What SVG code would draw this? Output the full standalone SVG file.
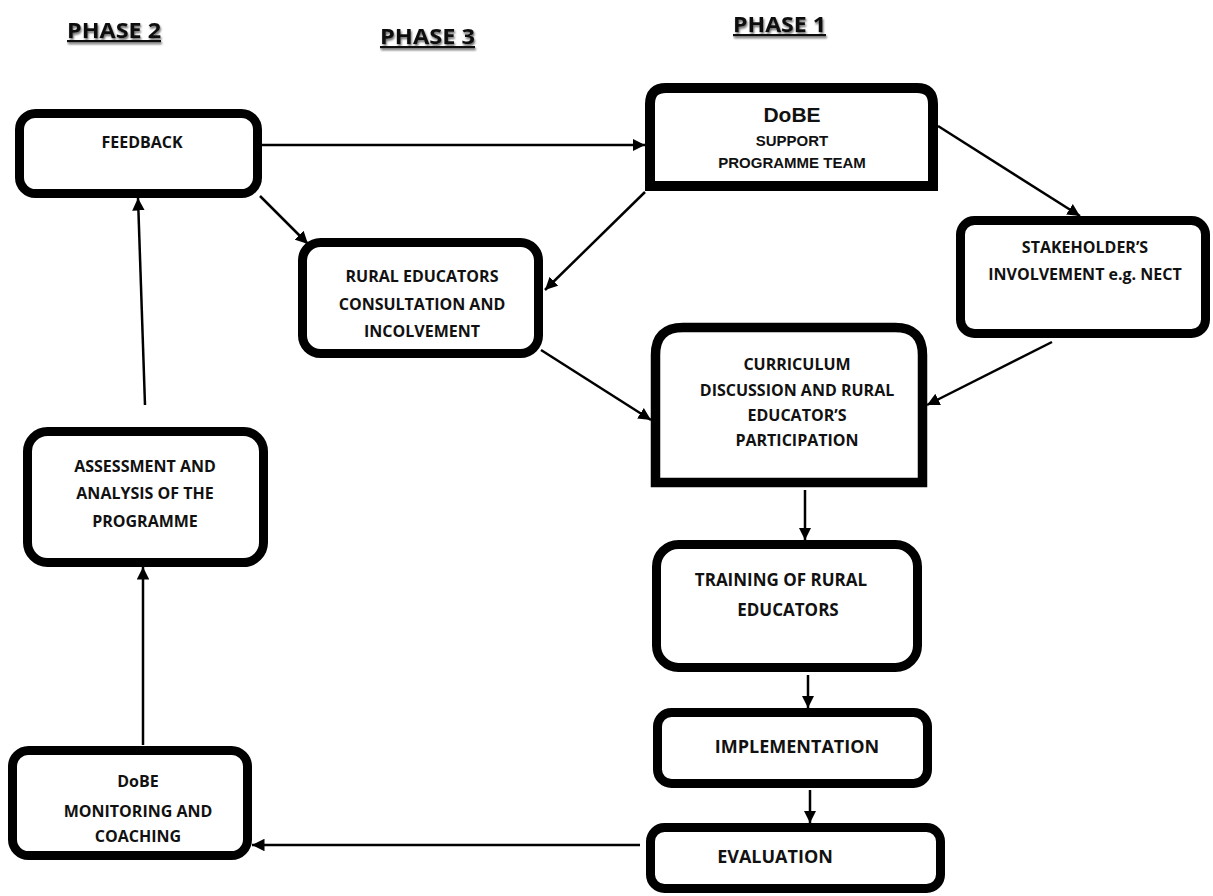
<svg xmlns="http://www.w3.org/2000/svg" width="1213" height="896" viewBox="0 0 1213 896">
<defs>
<marker id="ah" viewBox="0 0 10 10" refX="10" refY="5" markerWidth="5" markerHeight="5" markerUnits="strokeWidth" orient="auto">
<path d="M0,0 L10,5 L0,10 z" fill="#000"/>
</marker>
<filter id="sh" x="-10%" y="-30%" width="130%" height="160%">
<feGaussianBlur in="SourceAlpha" stdDeviation="1.2"/>
<feOffset dx="1" dy="1.5" result="b"/>
<feComponentTransfer><feFuncA type="linear" slope="0.6"/></feComponentTransfer>
<feMerge><feMergeNode/><feMergeNode in="SourceGraphic"/></feMerge>
</filter>
</defs>
<style>
.box{fill:#fff;stroke:#000;stroke-width:9}
.t{font-family:"Open Sans","Liberation Sans",sans-serif;font-weight:bold;font-size:16px;fill:#111;text-anchor:middle}
.a{font-family:"Liberation Sans",Arial,sans-serif;font-weight:bold;fill:#111;text-anchor:middle}
.h{font-family:"Open Sans","Liberation Sans",sans-serif;font-weight:bold;font-size:22px;fill:#111;text-decoration:underline}
.c{stroke:#000;stroke-width:2.5;fill:none;marker-end:url(#ah)}
</style>
<rect width="1213" height="896" fill="#fff"/>
<g id="headers" filter="url(#sh)">
<text class="h" x="67" y="38" textLength="94" lengthAdjust="spacingAndGlyphs">PHASE 2</text>
<text class="h" x="380" y="44" textLength="95" lengthAdjust="spacingAndGlyphs">PHASE 3</text>
<text class="h" x="733" y="32" textLength="93" lengthAdjust="spacingAndGlyphs">PHASE 1</text>
</g>
<g id="connectors">
<path class="c" d="M262,145 L645,145"/>
<path class="c" d="M260,196 L308,244"/>
<path class="c" d="M645,192 L545,290"/>
<path class="c" d="M938,126 L1080,216"/>
<path class="c" d="M541,350 L651,420"/>
<path class="c" d="M1052,342 L927,405"/>
<path class="c" d="M805,490 L805,540"/>
<path class="c" d="M808,675 L808,708"/>
<path class="c" d="M810,790 L810,823"/>
<path class="c" d="M640,845 L252,845"/>
<path class="c" d="M143,745 L143,567"/>
<path class="c" d="M145,405 L138,198"/>
</g>
<g id="feedback">
<rect class="box" x="19.5" y="113.5" width="238" height="80" rx="16"/>
<text class="t" x="142" y="148">FEEDBACK</text>
</g>
<g id="dobe-support">
<path class="box" style="stroke-width:10" d="M650,186 L650,104 Q650,88 666,88 L917,88 Q933,88 933,104 L933,186 Z"/>
<text class="a" x="792" y="122" style="font-size:21px">DoBE</text>
<text class="a" x="792" y="146" style="font-size:15px">SUPPORT</text>
<text class="a" x="792" y="168" style="font-size:15px">PROGRAMME TEAM</text>
</g>
<g id="rural-educators">
<rect class="box" x="302.5" y="242.5" width="236" height="111" rx="18"/>
<text class="t" x="422" y="282">RURAL EDUCATORS</text>
<text class="t" x="422" y="310">CONSULTATION AND</text>
<text class="t" x="422" y="337">INCOLVEMENT</text>
</g>
<g id="stakeholder">
<rect class="box" x="960.5" y="220.5" width="245" height="113" rx="14"/>
<text class="t" x="1085" y="253">STAKEHOLDER’S</text>
<text class="t" x="1085" y="280">INVOLVEMENT e.g. NECT</text>
</g>
<g id="curriculum">
<path class="box" style="stroke-width:9.5" d="M655.5,482.5 L655.5,355 Q655.5,327.5 683,327.5 L895,327.5 Q922.5,327.5 922.5,355 L922.5,482.5 Z"/>
<text class="t" x="797" y="370">CURRICULUM</text>
<text class="t" x="797" y="396">DISCUSSION AND RURAL</text>
<text class="t" x="797" y="421">EDUCATOR’S</text>
<text class="t" x="797" y="446">PARTICIPATION</text>
</g>
<g id="assessment">
<rect class="box" x="27.5" y="431.5" width="236" height="131" rx="20"/>
<text class="t" x="145" y="472">ASSESSMENT AND</text>
<text class="t" x="145" y="499">ANALYSIS OF THE</text>
<text class="t" x="145" y="527">PROGRAMME</text>
</g>
<g id="training">
<rect class="box" x="656.5" y="544.5" width="261" height="123" rx="22"/>
<text class="t" x="781" y="586" style="font-size:17px">TRAINING OF RURAL</text>
<text class="t" x="788" y="616" style="font-size:17px">EDUCATORS</text>
</g>
<g id="implementation">
<rect class="box" x="657.5" y="712.5" width="270" height="71" rx="14"/>
<text class="t" x="797" y="753" style="font-size:18px">IMPLEMENTATION</text>
</g>
<g id="evaluation">
<rect class="box" x="650.5" y="827.5" width="290" height="61" rx="14"/>
<text class="t" x="775" y="863" style="font-size:18px">EVALUATION</text>
</g>
<g id="monitoring">
<rect class="box" x="12.5" y="750.5" width="235" height="105" rx="16"/>
<text class="t" x="138" y="787">DoBE</text>
<text class="t" x="138" y="817">MONITORING AND</text>
<text class="t" x="138" y="842">COACHING</text>
</g>
</svg>
